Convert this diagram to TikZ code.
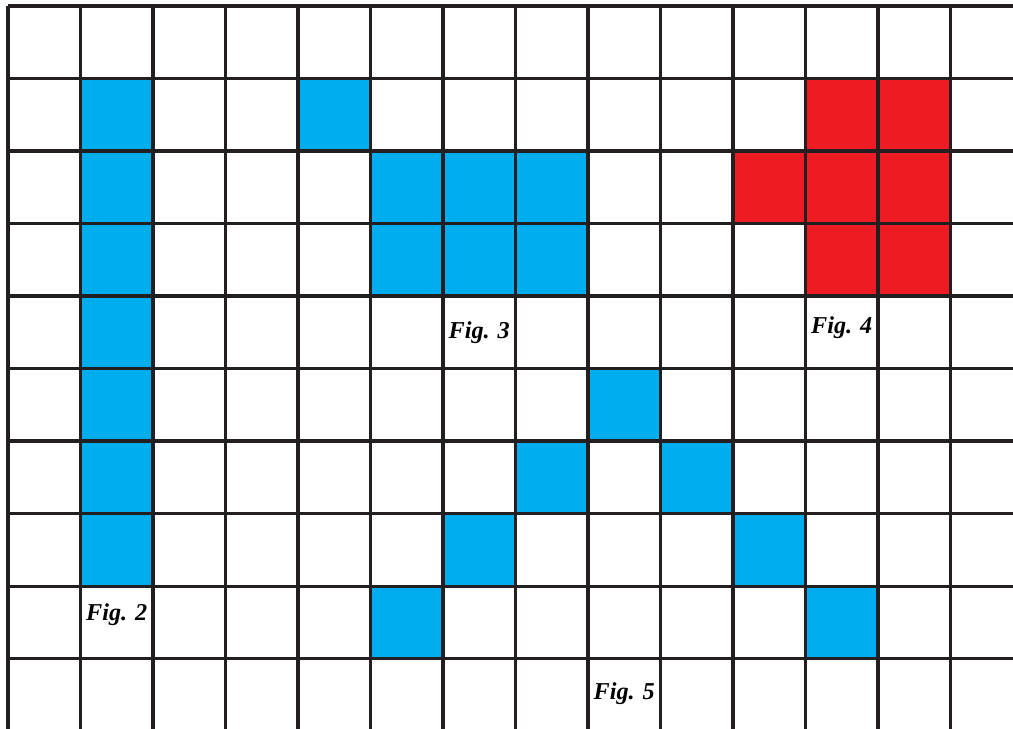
\documentclass[tikz,border=0pt]{standalone}
\usepackage{fontspec}
\setmainfont{Liberation Serif}
\usetikzlibrary{positioning}
\definecolor{cellblue}{RGB}{0,174,239}
\definecolor{cellred}{RGB}{237,28,36}
\definecolor{gridline}{RGB}{35,31,32}
\tikzset{
blue_cell/.style={fill=cellblue},
red_cell/.style={fill=cellred},
grid_line/.style={draw=gridline, line width=1.2pt},
fig_label/.style={font=\fontsize{9.5}{11}\selectfont\bfseries\itshape, inner sep=0pt, text=black}
}

\begin{document}
\begin{tikzpicture}[x=1cm,y=-1cm]
    \useasboundingbox (0,0) rectangle (13.972,10.055);
    \fill[white] (0,0) rectangle (13.972,10.055);
    \begin{scope}[shift={(0.110,0.083)}]
    % coloured cells (column/row)
    \foreach \c/\r in {1/1,1/2,1/3,1/4,1/5,1/6,1/7,4/1,5/2,6/2,7/2,5/3,6/3,7/3,8/5,7/6,9/6,6/7,10/7,5/8,11/8}
        \fill[blue_cell] (\c,\r) rectangle ++(1,1);
    \foreach \c/\r in {11/1,12/1,10/2,11/2,12/2,11/3,12/3}
        \fill[red_cell] (\c,\r) rectangle ++(1,1);
    % grid
    \foreach \c in {0,...,13}
        \draw[grid_line] (\c,0) -- (\c,9.972);
    \foreach \r in {0,...,9}
        \draw[grid_line] (0,\r) -- (13.862,\r);
    % labels
    \node[fig_label] (fig_2) at (1.5,8.4) {Fig. 2};
    \node[fig_label] (fig_3) at (6.5,4.5) {Fig. 3};
    \node[fig_label] (fig_4) at (11.5,4.44) {Fig. 4};
    \node[fig_label] (fig_5) at (8.5,9.48) {Fig. 5};
    \end{scope}
\end{tikzpicture}
\end{document}
